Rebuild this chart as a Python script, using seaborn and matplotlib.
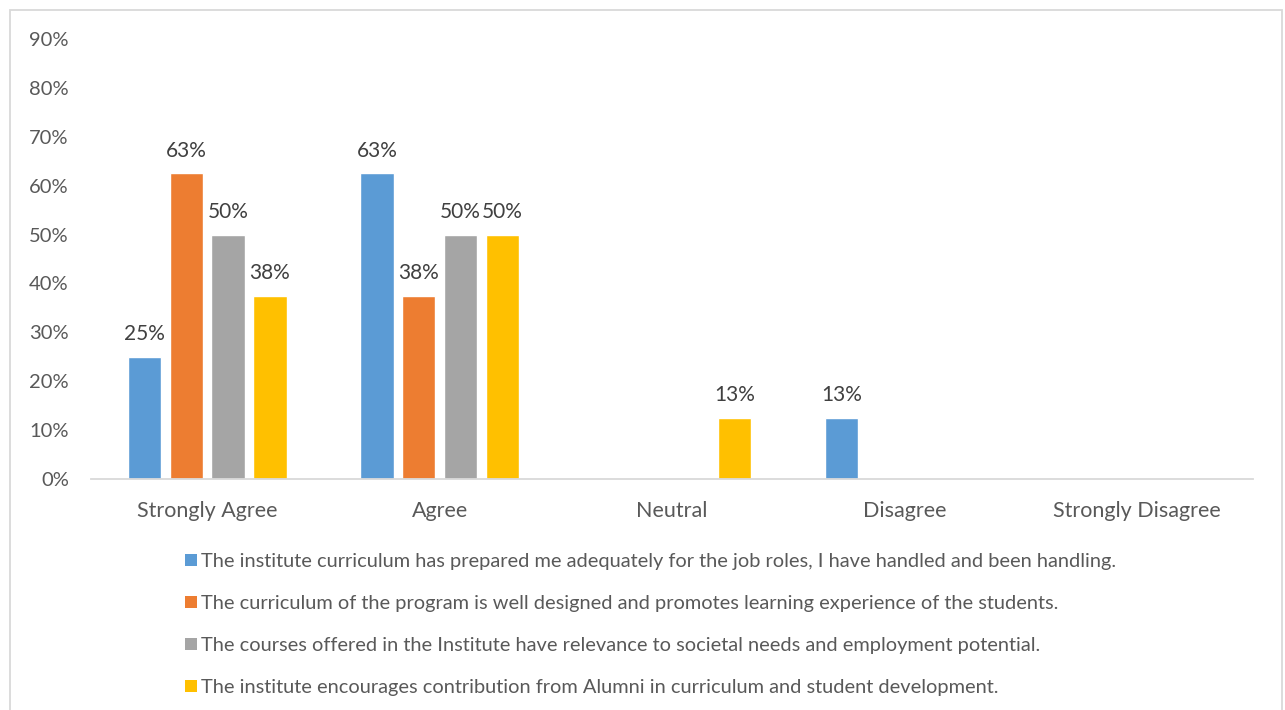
import numpy as np
import pandas as pd
import matplotlib
matplotlib.use("Agg")
import matplotlib.pyplot as plt
import seaborn as sns
from matplotlib.patches import Rectangle
import math

categories = ["Strongly Agree", "Agree", "Neutral", "Disagree", "Strongly Disagree"]
series_names = [
    "The institute curriculum has prepared me adequately for the job roles, I have handled and been handling.",
    "The curriculum of the program is well designed and promotes learning experience of the students.",
    "The courses offered in the Institute have relevance to societal needs and employment potential.",
    "The institute encourages contribution from Alumni in curriculum and student development.",
]
s1 = [0.25, 0.625, 0.0, 0.125, 0.0]
s2 = [0.625, 0.375, 0.0, 0.0, 0.0]
s3 = [0.50, 0.50, 0.0, 0.0, 0.0]
s4 = [0.375, 0.50, 0.125, 0.0, 0.0]
yticks = [0, 0.1, 0.2, 0.3, 0.4, 0.5, 0.6, 0.7, 0.8, 0.9]
colors = ["#5B9BD5", "#ED7D31", "#A5A5A5", "#FFC000"]

rows = []
for name, vals in zip(series_names, [s1, s2, s3, s4]):
    for c, v in zip(categories, vals):
        rows.append({"category": c, "series": name, "value": v})
df = pd.DataFrame(rows)

sns.set_theme(style="white")
plt.rcParams["font.family"] = ["Lato", "DejaVu Sans"]
TXT = "#595959"

fig = plt.figure(figsize=(12.85, 7.10), dpi=100)
W, H = 1285, 710
ax = fig.add_axes([91 / W, (H - 479) / H, (1253 - 91) / W, (479 - 39) / H])

sns.barplot(data=df, x="category", y="value", hue="series", order=categories,
            hue_order=series_names, palette=colors, width=0.72, gap=0.2,
            saturation=1, ax=ax, legend=False)

def pct(v):
    return f"{int(math.floor(v * 100 + 0.5))}%"

for cont in ax.containers:
    labels = [pct(b.get_height()) if b.get_height() > 0 else "" for b in cont]
    ax.bar_label(cont, labels=labels, padding=9, fontsize=15, color="#404040")

ax.set_ylim(0, 0.9)
ax.set_xlim(-0.5, 4.5)
ax.set_yticks(yticks)
ax.set_yticklabels([f"{int(round(t * 100))}%" for t in yticks])
ax.set_xlabel("")
ax.set_ylabel("")
for sp in ["top", "right", "left"]:
    ax.spines[sp].set_visible(False)
ax.spines["bottom"].set_color("#D9D9D9")
ax.spines["bottom"].set_linewidth(1.3)
ax.tick_params(axis="y", length=0, pad=16, labelsize=14.5, labelcolor=TXT)
ax.tick_params(axis="x", length=0, pad=16, labelsize=15.5, labelcolor=TXT)

handles = [Rectangle((0, 0), 1, 1, facecolor=c, edgecolor="none") for c in colors]
fig.legend(handles, series_names, loc="upper left", bbox_to_anchor=(185 / W, 1 - 553 / H),
           frameon=False, fontsize=14.4, labelcolor=TXT, handlelength=0.6, handleheight=0.6,
           handletextpad=0.2, labelspacing=1.25, borderaxespad=0, borderpad=0)

fig.patches.append(Rectangle((10 / W, -0.05), (1282 - 10) / W, 1.05 - 10 / H,
                             transform=fig.transFigure, facecolor="none",
                             edgecolor="#D9D9D9", linewidth=1.3))

fig.savefig("out.png", dpi=100)
